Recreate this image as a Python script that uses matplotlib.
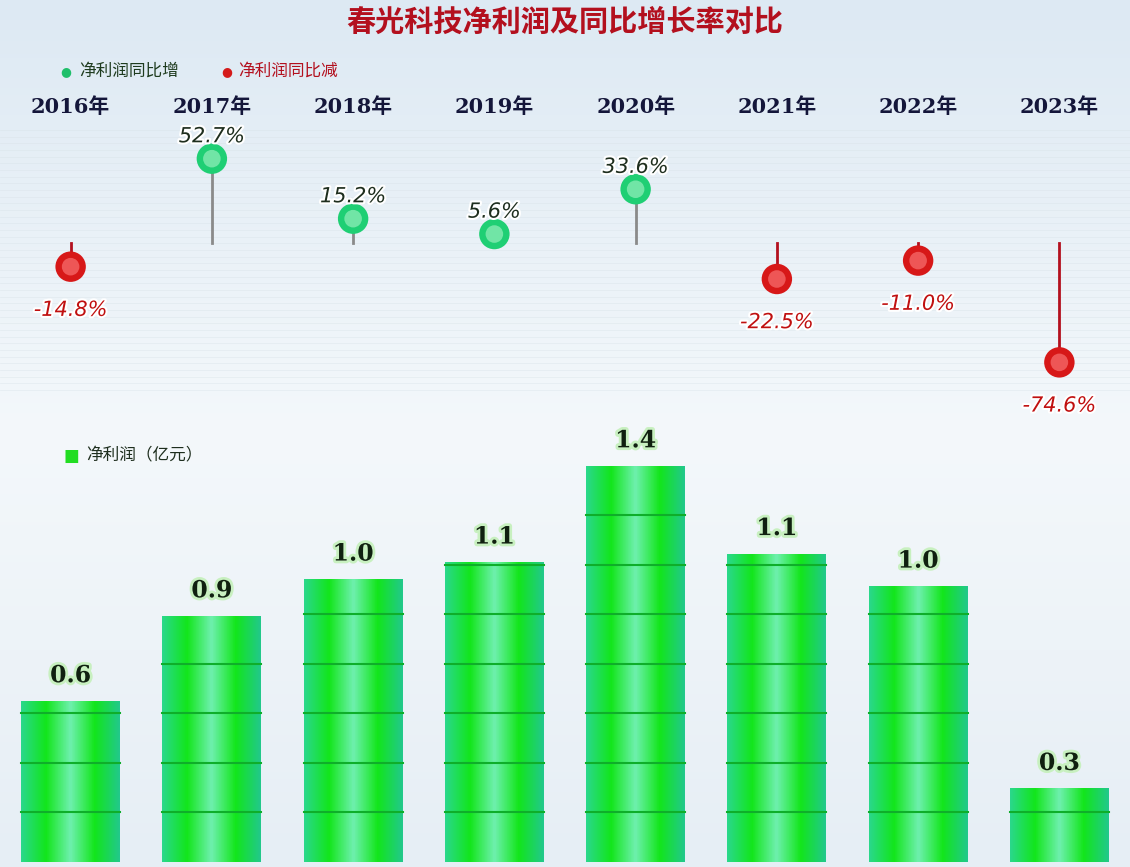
import numpy as np
import matplotlib.pyplot as plt
import matplotlib.patheffects as pe

years = ['2016年', '2017年', '2018年', '2019年', '2020年', '2021年', '2022年', '2023年']
profit = [0.57, 0.87, 1.0, 1.06, 1.40, 1.09, 0.975, 0.26]   # 亿元
growth = [-14.8, 52.7, 15.2, 5.6, 33.6, -22.5, -11.0, -74.6]  # %

cjk = ['Noto Sans CJK SC', 'DejaVu Sans']
fig = plt.figure(figsize=(11.3, 8.67), dpi=100)

# background
bg = fig.add_axes([0, 0, 1, 1])
grad = np.linspace(0, 1, 256).reshape(-1, 1)
bg.imshow(grad, extent=[0, 1, 0, 1], aspect='auto',
          cmap=plt.matplotlib.colors.LinearSegmentedColormap.from_list('b', ['#dde9f3', '#f4f8fb', '#e6eef5']))
for yy in np.linspace(0.55, 0.85, 40):
    bg.axhline(yy, color='#d6e0e6', lw=0.5, alpha=0.5)
bg.set_xlim(0, 1); bg.set_ylim(0, 1); bg.axis('off')

fig.text(0.5, 0.975, '春光科技净利润及同比增长率对比', ha='center', va='center',
         fontsize=21, fontweight='bold', color='#b3101e', family=cjk)

# legend top
fig.text(0.058, 0.918, '●', color='#1fbf6a', fontsize=9, va='center', ha='center')
fig.text(0.070, 0.918, '净利润同比增', color='#1e3b1e', fontsize=12, va='center', family=cjk)
fig.text(0.201, 0.918, '●', color='#d41a1a', fontsize=9, va='center', ha='center')
fig.text(0.211, 0.918, '净利润同比减', color='#b3101e', fontsize=12, va='center', family=cjk)

x = np.arange(len(years))

# growth lollipops
ax1 = fig.add_axes([0, 1 - 387 / 867, 1, 256 / 867])
ax1.set_xlim(-0.5, 7.5); ax1.set_ylim(-90, 70); ax1.axis('off')
for i, g in enumerate(growth):
    pos = g >= 0
    ax1.plot([i, i], [0, g], color='#8a8a8a' if pos else '#b3101e', lw=2, zorder=2)
    c = '#1fcf74' if pos else '#d71818'
    ax1.scatter(i, g, s=480, color=c, zorder=3, edgecolors='none')
    ax1.scatter(i, g, s=160, color='#a8f5c8' if pos else '#ff8080', zorder=4, edgecolors='none', alpha=0.6)
    ax1.text(i, g + (14 if pos else -27), f'{g:.1f}%', ha='center', va='center', fontsize=15,
             style='italic', color='#1e2e1e' if pos else '#c01010', clip_on=False,
             path_effects=[pe.withStroke(linewidth=3, foreground='white')])
for i, y in enumerate(years):
    fig.text((i + 0.5) / 8, 1 - 107 / 867, y, ha='center', va='center', fontsize=15,
             fontweight='bold', color='#14163a', family=['DejaVu Serif', 'Noto Sans CJK SC'])

# profit bars
ax2 = fig.add_axes([0, 5 / 867, 1, 1.6 * 283 / 867])
ax2.set_xlim(-0.5, 7.5); ax2.set_ylim(0, 1.6); ax2.axis('off')
bars = ax2.bar(x, profit, width=0.7, color='#22dd22', zorder=2)
cmap = plt.matplotlib.colors.LinearSegmentedColormap.from_list('g', ['#2ad88a', '#12e61a', '#6ff0b0', '#12e61a', '#22c98a'])
pat = np.tile(np.linspace(0, 1, 64), (8, 1))
for b, v in zip(bars, profit):
    im = ax2.imshow(pat, extent=[b.get_x(), b.get_x() + b.get_width(), 0, v],
                    aspect='auto', cmap=cmap, zorder=3)
    im.set_clip_path(b)
    for yy in np.arange(0.175, v, 0.175):
        ax2.plot([b.get_x(), b.get_x() + b.get_width()], [yy, yy], color='#0fae2a', lw=1.5, zorder=4)
    ax2.text(b.get_x() + b.get_width() / 2, v + 0.09, f'{v:.1f}', ha='center', va='center',
             fontsize=17, fontweight='bold', family='DejaVu Serif', color='#102010',
             path_effects=[pe.withStroke(linewidth=4, foreground='#c8f0c0')])
fig.text(0.063, 1 - 456 / 867, '■', color='#22dd22', fontsize=12, va='center', ha='center')
fig.text(0.076, 1 - 456 / 867, '净利润（亿元）', color='#1e2e1e', fontsize=12, va='center', family=cjk)

fig.savefig('out.png', dpi=100)
